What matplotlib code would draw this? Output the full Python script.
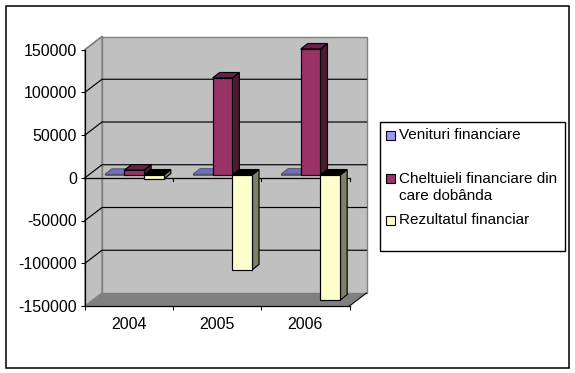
import matplotlib
matplotlib.use('Agg')
import matplotlib.pyplot as plt
from matplotlib.patches import Polygon, Rectangle

years = ['2004', '2005', '2006']
series_names = ['Venituri financiare', 'Cheltuieli financiare din\ncare dobânda', 'Rezultatul financiar']
venituri = [900, 1000, 1100]
cheltuieli = [5800, 113500, 147400]
rezultat = [-4700, -111000, -146200]
yticks = [150000, 100000, 50000, 0, -50000, -100000, -150000]

W, H = 575, 373
plt.rcParams['font.family'] = ['Liberation Sans', 'DejaVu Sans']
fig = plt.figure(figsize=(W / 100, H / 100), dpi=100, facecolor='white')

# Outer frame
bg = fig.add_axes([0, 0, 1, 1], zorder=0)
bg.set_xlim(0, W); bg.set_ylim(H, 0); bg.axis('off')
bg.add_patch(Rectangle((5.5, 5.5), 563, 362, fc='white', ec='black', lw=1.1))

# Front plane of the 3D box
x0, x1, ytop, ybot = 85.0, 349.5, 49.5, 306.0
ax = fig.add_axes([x0 / W, 1 - ybot / H, (x1 - x0) / W, (ybot - ytop) / H], zorder=1)
ax.set_xlim(0, 3)
ax.set_ylim(-150000, 150000)
ax.patch.set_visible(False)
for s in ax.spines.values():
    s.set_visible(False)

pxx = 3 / (x1 - x0)
pxy = 300000 / (ybot - ytop)
DX, DY = 17.0 * pxx, 13.0 * pxy

def poly(pts, fc, ec='none', lw=0.0, z=2):
    ax.add_patch(Polygon(pts, closed=True, fc=fc, ec=ec, lw=lw, zorder=z, clip_on=False, joinstyle='miter'))

GREY = '#C0C0C0'
L, R, B, T = 0, 3, -150000, 150000
# Walls and floor
poly([(L + DX, B + DY), (R + DX, B + DY), (R + DX, T + DY), (L + DX, T + DY)], GREY, '#808080', 1.0, 1)
poly([(L, B), (L + DX, B + DY), (L + DX, T + DY), (L, T)], GREY, '#808080', 1.0, 1)
poly([(L, B), (R, B), (R + DX, B + DY), (L + DX, B + DY)], '#808080', z=1.5)

# Gridlines on walls
for v in yticks:
    if v in (150000, -150000):
        continue
    ax.plot([L, L + DX, R + DX], [v, v + DY, v + DY], color='black', lw=0.85, zorder=1.6,
            clip_on=False, solid_joinstyle='miter')
ax.plot([R, R + DX], [B, B + DY], color='black', lw=0.75, zorder=1.6, clip_on=False)

# Axes
ax.plot([L, L], [B, T], color='black', lw=0.9, zorder=1.8, clip_on=False)
ax.plot([L, R], [B, B], color='black', lw=0.9, zorder=1.8, clip_on=False)
ax.plot([L, R], [0, 0], color='black', lw=0.9, zorder=1.8, clip_on=False)
ax.plot([L, L + DX], [T, T + DY], color='#808080', lw=1, zorder=1.6, clip_on=False)
for c in range(4):
    ax.plot([c, c], [0, -3 * pxy], color='black', lw=0.75, zorder=1.8, clip_on=False)

ax.set_yticks(yticks)
ax.set_yticklabels([str(v) for v in yticks], fontsize=11.5)
ax.set_xticks([0, 1, 2, 3], labels=['', '', '', ''])
ax.tick_params(axis='y', length=2.6, width=0.75, pad=3)
ax.tick_params(axis='x', length=2.9, width=0.75, pad=3)
for c, label in enumerate(years):
    ax.text(c + 0.5, -150000 - 11 * pxy, label, ha='center', va='top', fontsize=11.5)

# Bars
BW = 19.7 * pxx
OX, OY = 5.2 * pxx, 2.7 * pxy
BX, BY = 7 * pxx, 5.5 * pxy
styles = [('#9999FF', '#6F6FC0', '#6F6FC0'),
          ('#993366', '#4D1A33', '#66224A'),
          ('#FFFFCC', '#808066', '#000000')]
all_series = [venituri, cheltuieli, rezultat]

for i, (vals, (front, side, top)) in enumerate(zip(all_series, styles)):
    for c, v in enumerate(vals):
        xl = c + 0.5 + (i - 1.5) * BW + OX
        xr = xl + BW
        y0, y1 = OY, v + OY
        z = 3 + c + i * 0.1
        hi = max(y0, y1)
        lo = min(y0, y1)
        edge = '#404040' if i == 0 else 'black'
        elw = 0.5 if i == 0 else 0.85
        poly([(xr, lo), (xr + BX, lo + BY), (xr + BX, hi + BY), (xr, hi)], side, edge, elw, z)
        poly([(xl, hi), (xr, hi), (xr + BX, hi + BY), (xl + BX, hi + BY)], top, edge, elw, z)
        poly([(xl, lo), (xr, lo), (xr, hi), (xl, hi)], front, edge, elw, z)

# Legend
lg = fig.add_axes([0, 0, 1, 1], zorder=2)
lg.set_xlim(0, W); lg.set_ylim(H, 0); lg.axis('off')
lg.add_patch(Rectangle((379.5, 121.5), 185, 129, fc='white', ec='black', lw=1))
colors = ['#9999FF', '#993366', '#FFFFCC']
key_y = [135.5, 178, 220.5]
text_y = [135, 187.5, 220.5]
for name, col, ky, ty in zip(series_names, colors, key_y, text_y):
    lg.add_patch(Rectangle((386, ky - 4.5), 9, 9, fc=col, ec='black', lw=0.8))
    lg.text(399, ty, name, va='center', ha='left', fontsize=11.0, linespacing=1.3)

fig.savefig('out.png', dpi=100)
